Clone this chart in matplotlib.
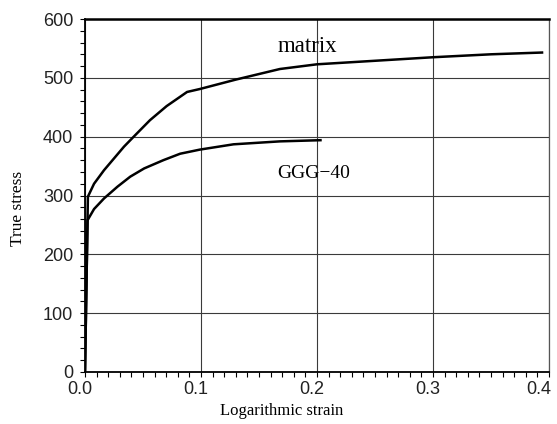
import matplotlib
matplotlib.use("Agg")
import matplotlib.pyplot as plt
from matplotlib.ticker import MultipleLocator
from matplotlib.transforms import ScaledTranslation

# True stress vs. logarithmic strain curves
matrix_strain = [0.0, 0.0025, 0.0078, 0.0164, 0.025, 0.0336, 0.042, 0.056, 0.0704,
                 0.088, 0.099, 0.13, 0.168, 0.20, 0.25, 0.30, 0.35, 0.394]
matrix_stress = [0, 298, 320, 343, 363, 383, 400, 428, 452,
                 476, 481, 497, 515, 523, 529, 535, 540, 543]

ggg_strain = [0.0, 0.0022, 0.0078, 0.0164, 0.028, 0.039, 0.051, 0.0675, 0.082,
              0.099, 0.128, 0.168, 0.203]
ggg_stress = [0, 258, 277, 295, 315, 332, 346, 360, 371,
              378, 387, 392, 394]

x_ticks = [0.0, 0.1, 0.2, 0.3, 0.4]
x_ticklabels = ["0.0", "0.1", "0.2", "0.3", "0.4"]
y_ticks = [0, 100, 200, 300, 400, 500, 600]

fig = plt.figure(figsize=(5.57, 4.24), dpi=100)
ax = fig.add_axes([85 / 557, 52 / 424, 464 / 557, 353 / 424])

ax.plot(matrix_strain, matrix_stress, color="black", lw=1.8, solid_joinstyle="round")
ax.plot(ggg_strain, ggg_stress, color="black", lw=1.8, solid_joinstyle="round")

ax.set_xlim(0, 0.4)
ax.set_ylim(0, 600)
ax.set_xticks(x_ticks)
ax.set_xticklabels(x_ticklabels)
ax.set_yticks(y_ticks)
ax.xaxis.set_minor_locator(MultipleLocator(0.01))
ax.yaxis.set_minor_locator(MultipleLocator(20))

ax.grid(True, which="major", color="#3a3a3a", lw=0.8)
ax.set_axisbelow(True)

ax.tick_params(which="both", direction="out", length=3.4, width=0.8, color="black")
ax.tick_params(axis="x", which="major", labelsize=13, pad=3)
ax.tick_params(axis="y", which="major", labelsize=13, pad=5)
for lab in ax.get_xticklabels() + ax.get_yticklabels():
    lab.set_family("Liberation Sans")
    lab.set_color("#222222")

# nudge the strain labels a little to the left, the last one flush with the frame
shift = ScaledTranslation(-5 / 100, 0, fig.dpi_scale_trans)
xlabels = ax.get_xticklabels()
for lab in xlabels:
    lab.set_transform(lab.get_transform() + shift)
xlabels[-1].set_horizontalalignment("right")
xlabels[-1].set_transform(xlabels[-1].get_transform()
                          + ScaledTranslation(7 / 100, 0, fig.dpi_scale_trans))

for side in ["left", "bottom"]:
    ax.spines[side].set_linewidth(1.3)
    ax.spines[side].set_color("black")
ax.spines["top"].set_linewidth(1.8)
ax.spines["top"].set_color("black")
ax.spines["right"].set_linewidth(0.9)
ax.spines["right"].set_color("#555555")

ax.set_xlabel("Logarithmic strain", family="Liberation Serif", fontsize=12)
ax.set_ylabel("True stress", family="Liberation Serif", fontsize=12.5)
ax.xaxis.set_label_coords((282 - 85) / 464, -(403 - 372) / 353)
ax.yaxis.set_label_coords(-(85 - 26) / 464, (372 - 208) / 353)

ax.text(0.192, 553, "matrix", family="Liberation Serif", fontsize=16.5,
        ha="center", va="center")
ax.text(0.197, 338, "GGG\u221240", family="Liberation Serif", fontsize=14,
        ha="center", va="center")

fig.savefig("out.png", dpi=100)
